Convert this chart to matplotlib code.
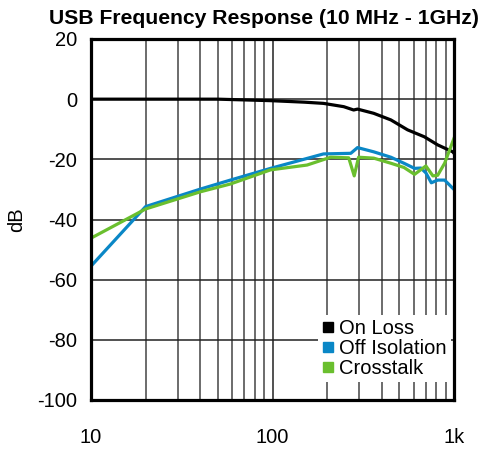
import matplotlib
matplotlib.use("Agg")
import matplotlib.pyplot as plt
from matplotlib.lines import Line2D
from matplotlib.ticker import FixedLocator, NullFormatter
import numpy as np

plt.rcParams['font.family'] = ['Liberation Sans', 'DejaVu Sans']

title = "USB Frequency Response (10 MHz - 1GHz)"
ylabel = "dB"
series_names = ["On Loss", "Off Isolation", "Crosstalk"]
series_colors = ["#000000", "#0a87c6", "#6abf2e"]

on_f = [10, 20, 50, 98, 150, 191, 247, 280, 294, 361, 449, 555, 686, 813, 984, 1000]
on_db = [0.0, 0.0, 0.0, -0.5, -1.0, -1.4, -2.5, -3.6, -3.3, -4.7, -6.9, -10.2, -12.5, -15.2, -17.5, -18.0]

off_f = [10, 20, 40, 58.6, 97.6, 155, 191, 270, 294, 361, 449, 530, 606, 657, 700, 750, 813, 888, 984, 1000]
off_db = [-55.5, -35.7, -29.9, -26.9, -23.0, -19.7, -18.2, -18.0, -16.1, -17.5, -19.3, -21.3, -23.0, -22.9, -24.5, -27.8, -26.9, -26.9, -29.6, -30.0]

xt_f = [10, 20, 40, 58.6, 97.6, 155, 176, 209, 263, 282, 298, 361, 449, 530, 606, 700, 765, 813, 888, 984, 1000]
xt_db = [-46.2, -36.5, -30.8, -28.2, -23.5, -21.9, -20.8, -19.3, -19.5, -25.5, -19.3, -19.6, -21.3, -22.7, -25.0, -22.2, -25.5, -25.3, -21.3, -14.1, -13.0]

xticks = [10, 100, 1000]
xticklabels = ["10", "100", "1k"]
yticks = [20, 0, -20, -40, -60, -80, -100]

fig = plt.figure(figsize=(4.84, 4.51), dpi=100)
ax = fig.add_axes([91/484, 1-400/451, (454-91)/484, (400-39)/451])

for f, d, c in zip([on_f, off_f, xt_f], [on_db, off_db, xt_db], series_colors):
    ax.plot(f, d, color=c, lw=2.3, solid_joinstyle='round', zorder=3)

ax.set_xscale('log')
ax.set_xlim(10, 1000)
ax.set_ylim(-100, 20)
ax.set_xticks(xticks)
ax.set_xticklabels(xticklabels)
minor = [m * 10**e for e in (1, 2) for m in range(2, 10)]
ax.xaxis.set_minor_locator(FixedLocator(minor))
ax.xaxis.set_minor_formatter(NullFormatter())
ax.set_yticks(yticks)
ax.set_yticklabels([str(v) for v in yticks])
ax.tick_params(axis='both', which='both', length=0, labelsize=14.5)
ax.tick_params(axis='x', pad=20)
ax.tick_params(axis='y', pad=10)
ax.grid(True, which='major', color='#222222', lw=1.1, zorder=1)
ax.grid(True, which='minor', axis='x', color='#444444', lw=1.1, zorder=1)
for s in ax.spines.values():
    s.set_linewidth(2.3)
    s.set_zorder(5)

fig.text(264/484, 1-18/451, title, fontsize=15.2, fontweight='bold', ha='center', va='center')
ax.set_ylabel(ylabel, fontsize=14.5, labelpad=8)

handles = [Line2D([], [], ls='none', marker='s', markersize=7.5, color=c) for c in series_colors]
leg = ax.legend(handles, series_names, loc='upper left', bbox_to_anchor=((318-91)/363, (400-315)/361),
                frameon=True, fancybox=False, edgecolor='none', framealpha=1,
                fontsize=14.5, handlelength=0.6, handletextpad=0.25, labelspacing=0.05,
                borderpad=0.2, borderaxespad=0.0)
leg.set_zorder(6)

fig.savefig("out.png", dpi=100)
